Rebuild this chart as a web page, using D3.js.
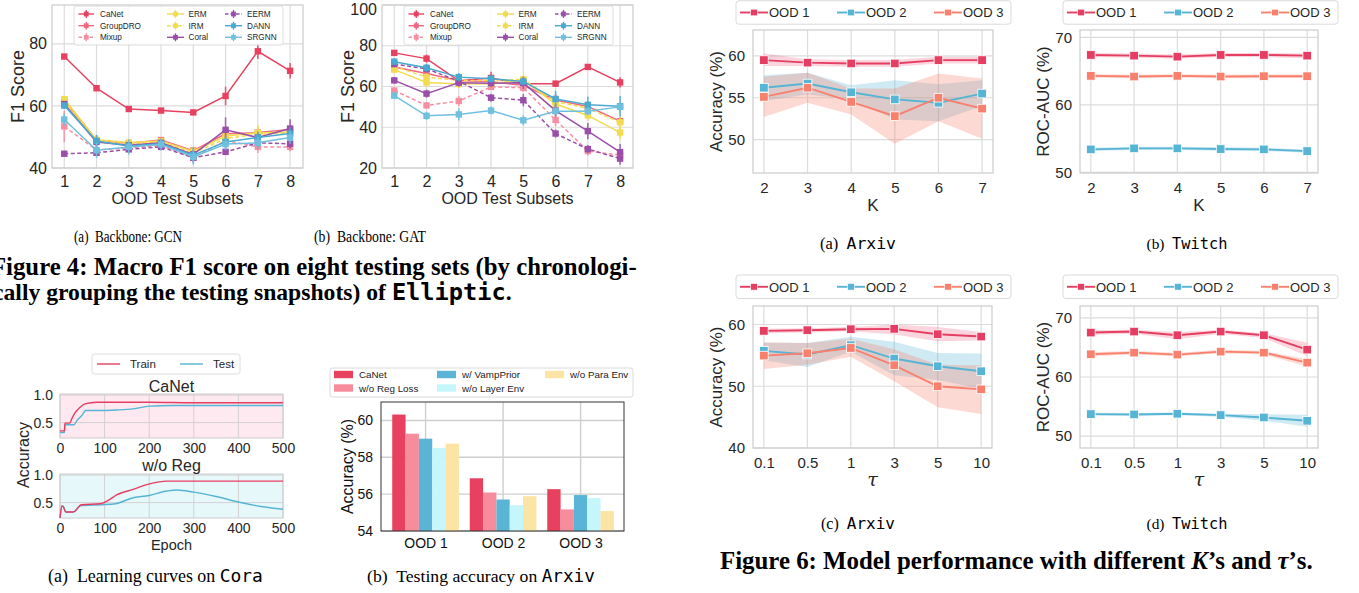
<!DOCTYPE html>
<html><head><meta charset="utf-8">
<script src="https://cdn.jsdelivr.net/npm/d3@7"></script>
<style>html,body{margin:0;padding:0;background:#fff;overflow:hidden}svg{display:block}</style>
</head><body>
<svg id="c" width="1359" height="593" xmlns="http://www.w3.org/2000/svg"></svg>
<script>
// ================= DATA =================
const subsets = [1,2,3,4,5,6,7,8];
const methods = ["CaNet","GroupDRO","Mixup","ERM","IRM","Coral","EERM","DANN","SRGNN"];
const methodColors = ["#e8405f","#f3687e","#f88fa1","#f2db4e","#f2db4e","#9b4ea9","#9b4ea9","#4aa9d0","#6fc0de"];
const methodDashed = [false,false,true,false,true,false,true,false,false];

// Elliptic, GCN backbone (F1)
const gcnCaNet    = [75.9,65.7,59.0,58.5,57.9,63.2,77.6,71.3];
const gcnGroupDRO = [61.8,48.9,48.0,49.0,45.6,51.0,51.4,52.4];
const gcnMixup    = [53.4,45.8,46.5,47.3,43.3,48.8,46.8,46.8];
const gcnERM      = [62.2,49.1,48.2,48.7,45.3,50.3,51.3,51.6];
const gcnIRM      = [61.5,48.8,47.8,48.4,44.8,49.5,50.9,51.3];
const gcnCoral    = [60.6,48.4,47.3,48.1,44.4,52.3,49.8,52.7];
const gcnEERM     = [44.6,44.9,46.0,46.8,43.3,45.2,48.1,47.8];
const gcnDANN     = [60.1,48.7,47.1,47.8,44.1,48.4,49.8,51.1];
const gcnSRGNN    = [55.6,45.7,46.8,47.6,43.6,47.7,48.1,49.8];
const gcnErrCaNet    = [0.8,0.8,0.8,0.8,0.8,3.0,2.5,2.5];
const gcnErrGroupDRO = [1.0,1.5,1.0,1.0,1.0,2.0,1.5,1.5];
const gcnErrMixup    = [5.0,1.5,1.5,1.5,1.5,1.5,2.0,1.5];
const gcnErrERM      = [1.0,1.5,1.0,1.0,1.5,3.0,2.5,2.0];
const gcnErrIRM      = [1.0,1.5,1.0,1.0,1.5,2.5,2.5,2.0];
const gcnErrCoral    = [1.0,1.5,1.0,1.0,1.5,4.0,1.5,3.0];
const gcnErrEERM     = [0.5,1.0,1.0,0.8,1.0,1.0,1.5,1.5];
const gcnErrDANN     = [1.0,2.0,1.5,1.5,2.5,2.0,2.0,2.0];
const gcnErrSRGNN    = [2.0,2.5,2.5,2.0,2.5,2.0,2.0,2.0];

// Elliptic, GAT backbone (F1)
const gatCaNet    = [76.5,73.7,62.8,64.2,61.3,61.4,69.6,62.0];
const gatGroupDRO = [69.6,66.4,62.9,62.3,60.6,53.4,50.2,43.0];
const gatMixup    = [58.0,50.7,52.9,59.8,59.4,43.6,28.3,26.3];
const gatERM      = [68.3,62.0,61.2,61.4,63.1,51.4,45.8,37.4];
const gatIRM      = [69.8,64.6,63.0,63.0,63.5,52.6,49.3,42.4];
const gatCoral    = [63.0,56.5,61.9,61.6,61.8,48.2,38.1,27.8];
const gatEERM     = [71.0,68.7,62.6,54.5,53.3,36.9,29.3,24.6];
const gatDANN     = [72.2,69.2,64.6,63.8,62.5,53.9,51.0,50.3];
const gatSRGNN    = [55.5,45.6,46.3,48.2,43.4,47.9,47.9,50.0];
const gatErrCaNet    = [1.0,2.0,2.0,3.0,1.5,1.5,1.0,2.5];
const gatErrGroupDRO = [1.5,2.0,2.0,2.0,2.0,3.0,2.0,2.0];
const gatErrMixup    = [1.5,1.5,2.5,1.5,2.0,3.0,2.0,2.0];
const gatErrERM      = [1.5,2.0,2.0,2.0,2.0,3.0,2.5,3.0];
const gatErrIRM      = [1.5,2.0,2.0,2.0,2.0,3.0,2.5,3.0];
const gatErrCoral    = [1.5,2.0,2.0,2.0,3.0,3.0,4.0,4.0];
const gatErrEERM     = [1.5,2.0,2.0,2.0,3.0,2.0,2.0,3.0];
const gatErrDANN     = [1.5,2.0,2.0,2.0,2.0,4.0,4.0,5.0];
const gatErrSRGNN    = [1.0,2.0,3.0,2.0,2.5,2.0,2.0,2.0];

// Learning curves on Cora: [epoch, accuracy]
const epochTicks = [0,100,200,300,400,500];
const lcCaNetTrain = [[0,0.35],[10,0.35],[11,0.49],[22,0.49],[27,0.58],[34,0.68],[45,0.78],[56,0.84],[82,0.87],[200,0.87],[300,0.86],[500,0.86]];
const lcCaNetTest  = [[0,0.32],[10,0.32],[11,0.46],[31,0.46],[39,0.55],[48,0.62],[58,0.72],[82,0.72],[127,0.73],[164,0.75],[201,0.80],[250,0.81],[500,0.81]];
const lcNoRegTrain = [[0,0.22],[4,0.44],[7,0.43],[13,0.33],[30,0.33],[48,0.46],[90,0.48],[112,0.56],[127,0.64],[164,0.74],[201,0.84],[239,0.89],[500,0.89]];
const lcNoRegTest  = [[0,0.22],[5,0.44],[8,0.42],[13,0.33],[30,0.33],[45,0.44],[90,0.46],[125,0.48],[160,0.58],[200,0.63],[240,0.71],[262,0.73],[300,0.69],[350,0.61],[400,0.51],[450,0.43],[500,0.38]];

// Ablation on Arxiv (accuracy %)
const barGroups = ["OOD 1","OOD 2","OOD 3"];
const barVariants = ["CaNet","w/o Reg Loss","w/ VampPrior","w/o Layer Env","w/o Para Env"];
const barColors = ["#e8405f","#f78c9c","#5ab4d6","#c4f6fb","#fbe4a4"];
const barCaNet = [60.32,56.86,56.27];
const barRegLoss = [59.28,56.09,55.17];
const barVampPrior = [59.01,55.71,55.95];
const barLayerEnv = [58.50,55.40,55.78];
const barParaEnv = [58.74,55.89,55.08];

// Sensitivity (Figure 6)
const oodNames = ["OOD 1","OOD 2","OOD 3"];
const oodColors = ["#e63e62","#56b4d4","#f8806d"];
const kValues = [2,3,4,5,6,7];
const tauLabels = ["0.1","0.5","1","3","5","10"];

const arxivK1 = [59.5,59.2,59.1,59.1,59.5,59.5];
const arxivK1lo = [58.8,58.8,58.7,58.7,59.1,59.1];
const arxivK1hi = [60.3,59.6,59.5,59.5,59.9,59.9];
const arxivK2 = [56.2,56.7,55.65,54.8,54.4,55.5];
const arxivK2lo = [54.6,55.4,54.8,52.4,52.2,54.0];
const arxivK2hi = [57.7,58.0,56.5,57.1,56.6,57.1];
const arxivK3 = [55.1,56.2,54.5,52.8,55.0,53.7];
const arxivK3lo = [52.7,54.4,53.0,49.5,52.2,50.1];
const arxivK3hi = [57.5,58.0,56.1,56.1,57.9,57.3];

const twitchK1 = [67.4,67.3,67.15,67.4,67.4,67.3];
const twitchK1lo = [67.1,67.0,66.85,67.1,67.1,66.9];
const twitchK1hi = [67.7,67.6,67.45,67.7,67.7,67.6];
const twitchK2 = [53.4,53.55,53.55,53.45,53.4,53.15];
const twitchK2lo = [53.15,53.3,53.3,53.2,53.15,52.9];
const twitchK2hi = [53.65,53.8,53.8,53.7,53.65,53.4];
const twitchK3 = [64.3,64.2,64.3,64.2,64.25,64.25];
const twitchK3lo = [64.05,63.95,64.05,63.95,64.0,64.0];
const twitchK3hi = [64.55,64.45,64.55,64.45,64.5,64.5];

const arxivT1 = [58.97,59.08,59.24,59.3,58.43,58.05];
const arxivT1lo = [58.6,58.7,58.9,58.4,57.3,57.4];
const arxivT1hi = [59.3,59.4,59.6,60.0,59.6,58.8];
const arxivT2 = [55.73,55.14,56.65,54.49,53.24,52.43];
const arxivT2lo = [54.2,53.1,55.6,51.8,51.0,49.6];
const arxivT2hi = [57.1,57.0,58.0,57.2,55.4,55.3];
const arxivT3 = [54.97,55.35,56.2,53.4,50.0,49.5];
const arxivT3lo = [52.8,53.5,54.8,50.8,46.6,45.5];
const arxivT3hi = [57.1,57.0,57.7,56.0,53.5,53.4];

const twitchT1 = [67.51,67.68,67.06,67.68,67.06,64.63];
const twitchT1lo = [67.1,67.3,66.4,67.3,66.6,63.5];
const twitchT1hi = [67.9,68.0,67.6,68.0,67.4,65.8];
const twitchT2 = [53.73,53.67,53.79,53.56,53.16,52.6];
const twitchT2lo = [53.5,53.45,53.55,53.3,52.6,51.6];
const twitchT2hi = [53.95,53.9,54.0,53.8,53.7,53.6];
const twitchT3 = [63.84,64.12,63.79,64.29,64.12,62.43];
const twitchT3lo = [63.5,63.8,63.5,64.0,63.8,61.8];
const twitchT3hi = [64.2,64.4,64.1,64.6,64.4,63.0];

// ================= DRAWING =================
const svg = d3.select("#c");
svg.append("rect").attr("width",1359).attr("height",593).attr("fill","#fff");
const SANS = "'Liberation Sans', Arial, Helvetica, sans-serif";
const SERIF = "'Liberation Serif', 'Times New Roman', serif";
const MONO = "'DejaVu Sans Mono', 'Liberation Mono', monospace";
const INK = "#262626";
const GRID = "#dcdcdc";
const FRAME = "#cccccc";

function txt(g, x, y, s, size, o = {}) {
  const t = g.append("text").attr("x", x).attr("y", y).text(s)
    .attr("font-family", o.family || SANS).attr("font-size", size)
    .attr("fill", o.fill || INK).attr("text-anchor", o.anchor || "start");
  if (o.weight) t.attr("font-weight", o.weight);
  if (o.rotate) t.attr("transform", `rotate(-90,${x},${y})`).attr("dominant-baseline", "central");
  return t;
}
function fitText(t, target) {
  const w = t.node().getComputedTextLength();
  const fs = parseFloat(t.attr("font-size"));
  if (w > 0) t.attr("font-size", fs * target / w);
}
function styleAxis(sel, size, color) {
  sel.select(".domain").remove();
  sel.selectAll("text").attr("font-family", SANS).attr("font-size", size).attr("fill", color || INK);
}
// caption with serif + mono parts
function caption(x, y, parts, size, target, o = {}) {
  const t = svg.append("text").attr("x", x).attr("y", y).attr("font-size", size)
    .attr("font-family", SERIF).attr("fill", "#000").attr("text-anchor", o.anchor || "middle");
  if (o.weight) t.attr("font-weight", o.weight);
  parts.forEach(p => {
    const ts = t.append("tspan").text(p.t).attr("xml:space", "preserve");
    if (p.mono) ts.attr("font-family", MONO);
    if (p.italic) ts.attr("font-style", "italic");
  });
  t.attr("xml:space", "preserve");
  if (o.squeeze) t.attr("textLength", o.squeeze).attr("lengthAdjust", "spacingAndGlyphs");
  else if (target) fitText(t, target);
  return t;
}

// ---------- F1 panels ----------
function f1Panel(cfg) {
  const g = svg.append("g");
  const x = d3.scaleLinear().domain(cfg.xDomain).range([cfg.left, cfg.right]);
  const y = d3.scaleLinear().domain(cfg.yDomain).range([cfg.bottom, cfg.top]);
  g.append("g").selectAll("line").data(subsets).join("line")
    .attr("x1", d => x(d)).attr("x2", d => x(d)).attr("y1", cfg.top).attr("y2", cfg.bottom)
    .attr("stroke", GRID).attr("stroke-width", 1.2);
  g.append("g").selectAll("line").data(cfg.yTicks).join("line")
    .attr("x1", cfg.left).attr("x2", cfg.right).attr("y1", d => y(d)).attr("y2", d => y(d))
    .attr("stroke", GRID).attr("stroke-width", 1.2);
  g.append("rect").attr("x", cfg.left).attr("y", cfg.top).attr("width", cfg.right - cfg.left)
    .attr("height", cfg.bottom - cfg.top).attr("fill", "none").attr("stroke", FRAME).attr("stroke-width", 1.2);

  const line = d3.line().x((d, i) => x(subsets[i])).y(d => y(d));
  cfg.series.forEach((vals, si) => {
    const col = methodColors[si], errs = cfg.errors[si];
    const sg = g.append("g");
    sg.append("path").attr("d", line(vals)).attr("fill", "none").attr("stroke", col)
      .attr("stroke-width", 1.5).attr("stroke-dasharray", methodDashed[si] ? "4,2.5" : null);
    sg.selectAll("line.e").data(vals).join("line")
      .attr("x1", (d, i) => x(subsets[i])).attr("x2", (d, i) => x(subsets[i]))
      .attr("y1", (d, i) => y(d - errs[i])).attr("y2", (d, i) => y(d + errs[i]))
      .attr("stroke", col).attr("stroke-width", 1.6).attr("opacity", 0.85);
    sg.selectAll("rect").data(vals).join("rect")
      .attr("x", (d, i) => x(subsets[i]) - 3.2).attr("y", d => y(d) - 3.2)
      .attr("width", 6.4).attr("height", 6.4).attr("fill", col);
  });

  const xa = g.append("g").attr("transform", `translate(0,${cfg.bottom})`)
    .call(d3.axisBottom(x).tickValues(subsets).tickFormat(d3.format("d")).tickSize(0).tickPadding(8));
  styleAxis(xa, 16);
  const ya = g.append("g").attr("transform", `translate(${cfg.left},0)`)
    .call(d3.axisLeft(y).tickValues(cfg.yTicks).tickFormat(d3.format("d")).tickSize(0).tickPadding(5));
  styleAxis(ya, 16);
  ya.selectAll("text").filter(d => y(d) < 10).attr("dy", "0.62em");
  txt(g, (cfg.left + cfg.right) / 2, 204, "OOD Test Subsets", 16, { anchor: "middle" });
  txt(g, cfg.left - 34, (cfg.top + cfg.bottom) / 2, "F1 Score", 18, { anchor: "middle", rotate: true });

  // legend
  const ox = cfg.left - 52;
  g.append("rect").attr("x", ox + 74).attr("y", 6).attr("width", 209).attr("height", 39).attr("rx", 2)
    .attr("fill", "#fff").attr("fill-opacity", 0.85).attr("stroke", "#d6d6d6").attr("stroke-width", 0.8);
  const cols = [[78.5, 94, 100], [167, 184, 188.5], [225, 242, 247]];
  const rows = [14, 25.7, 37.3];
  methods.forEach((m, i) => {
    const c = cols[Math.floor(i / 3)], r = rows[i % 3], col = methodColors[i];
    const mx = (c[0] + c[1]) / 2 + ox;
    g.append("line").attr("x1", c[0] + ox).attr("x2", c[1] + ox).attr("y1", r).attr("y2", r)
      .attr("stroke", col).attr("stroke-width", 1.4).attr("stroke-dasharray", methodDashed[i] ? "3.5,2" : null);
    g.append("line").attr("x1", mx).attr("x2", mx).attr("y1", r - 4).attr("y2", r + 4)
      .attr("stroke", col).attr("stroke-width", 1.3);
    g.append("rect").attr("x", mx - 2.4).attr("y", r - 2.4).attr("width", 4.8).attr("height", 4.8).attr("fill", col);
    txt(g, c[2] + ox, r + 2.9, m, 8.2, {});
  });
}

f1Panel({ left: 52, right: 303, top: 5, bottom: 168, xDomain: [0.62, 8.4], yDomain: [40, 92.5], yTicks: [40, 60, 80],
  series: [gcnCaNet, gcnGroupDRO, gcnMixup, gcnERM, gcnIRM, gcnCoral, gcnEERM, gcnDANN, gcnSRGNN],
  errors: [gcnErrCaNet, gcnErrGroupDRO, gcnErrMixup, gcnErrERM, gcnErrIRM, gcnErrCoral, gcnErrEERM, gcnErrDANN, gcnErrSRGNN] });
f1Panel({ left: 382, right: 633, top: 5, bottom: 168, xDomain: [0.62, 8.4], yDomain: [20, 100], yTicks: [20, 40, 60, 80, 100],
  series: [gatCaNet, gatGroupDRO, gatMixup, gatERM, gatIRM, gatCoral, gatEERM, gatDANN, gatSRGNN],
  errors: [gatErrCaNet, gatErrGroupDRO, gatErrMixup, gatErrERM, gatErrIRM, gatErrCoral, gatErrEERM, gatErrDANN, gatErrSRGNN] });

caption(128, 242, [{ t: "(a)  Backbone: GCN" }], 16.5, null, { squeeze: 108 });
caption(370, 242, [{ t: "(b)  Backbone: GAT" }], 16.5, null, { squeeze: 112 });
caption(-9, 275, [{ t: "Figure 4: Macro F1 score on eight testing sets (by chronologi-" }], 20, 646, { anchor: "start", weight: "bold" });
caption(-7, 300, [{ t: "cally grouping the testing snapshots) of " }, { t: "Elliptic", mono: true }, { t: "." }], 20, 519, { anchor: "start", weight: "bold" });

// ---------- Learning curves ----------
(function () {
  const g = svg.append("g");
  const x = d3.scaleLinear().domain([0, 500]).range([60, 283]);
  const subs = [
    { top: 394, bottom: 438, bg: "#fde9ef", title: "CaNet", tY: 392, train: lcCaNetTrain, test: lcCaNetTest },
    { top: 474, bottom: 518, bg: "#e7f8fb", title: "w/o Reg", tY: 471, train: lcNoRegTrain, test: lcNoRegTest }
  ];
  subs.forEach(s => {
    const y = d3.scaleLinear().domain([0.22, 1.02]).range([s.bottom, s.top]);
    g.append("rect").attr("x", 60).attr("y", s.top).attr("width", 223).attr("height", s.bottom - s.top).attr("fill", s.bg);
    g.append("g").selectAll("line").data(epochTicks).join("line")
      .attr("x1", d => x(d)).attr("x2", d => x(d)).attr("y1", s.top).attr("y2", s.bottom)
      .attr("stroke", "#d4d0d2").attr("stroke-width", 1);
    g.append("g").selectAll("line").data([0.5, 1.0]).join("line")
      .attr("x1", 60).attr("x2", 283).attr("y1", d => y(d)).attr("y2", d => y(d))
      .attr("stroke", "#d4d0d2").attr("stroke-width", 1);
    g.append("rect").attr("x", 60).attr("y", s.top).attr("width", 223).attr("height", s.bottom - s.top)
      .attr("fill", "none").attr("stroke", FRAME).attr("stroke-width", 1);
    const ln = d3.line().x(d => x(d[0])).y(d => y(d[1])).curve(d3.curveMonotoneX);
    g.append("path").attr("d", ln(s.test)).attr("fill", "none").attr("stroke", "#56b4d4").attr("stroke-width", 1.4);
    g.append("path").attr("d", ln(s.train)).attr("fill", "none").attr("stroke", "#e63e62").attr("stroke-width", 1.4);
    const xa = g.append("g").attr("transform", `translate(0,${s.bottom})`)
      .call(d3.axisBottom(x).tickValues(epochTicks).tickFormat(d3.format("d")).tickSize(0).tickPadding(5));
    styleAxis(xa, 14);
    const ya = g.append("g").attr("transform", `translate(60,0)`)
      .call(d3.axisLeft(y).tickValues([0.5, 1.0]).tickFormat(d3.format(".1f")).tickSize(0).tickPadding(7));
    styleAxis(ya, 14);
    txt(g, 171.5, s.tY, s.title, 16, { anchor: "middle" });
  });
  txt(g, 171.5, 550, "Epoch", 14.5, { anchor: "middle" });
  txt(g, 23, 455, "Accuracy", 16, { anchor: "middle", rotate: true });
  g.append("rect").attr("x", 92).attr("y", 354).attr("width", 148).attr("height", 20).attr("rx", 2.5)
    .attr("fill", "#fff").attr("stroke", "#d6d6d6").attr("stroke-width", 0.8);
  [["Train", "#e63e62", 97, 120, 130], ["Test", "#56b4d4", 180, 203, 213]].forEach(d => {
    g.append("line").attr("x1", d[2]).attr("x2", d[3]).attr("y1", 364).attr("y2", 364).attr("stroke", d[1]).attr("stroke-width", 1.4);
    txt(g, d[4], 368, d[0], 11.5, {});
  });
})();
caption(155.5, 582, [{ t: "(a)  Learning curves on " }, { t: "Cora", mono: true }], 15, 215);

// ---------- Bar chart ----------
(function () {
  const g = svg.append("g");
  const L = 381, R = 624, T = 402, B = 531;
  const gi = barGroups.map((d, i) => i);
  const x = d3.scaleLinear().domain([-0.575, 2.56]).range([L, R]);
  const y = d3.scaleLinear().domain([54, 61]).range([B, T]);
  const yt = [54, 56, 58, 60];
  g.append("g").selectAll("line").data(gi).join("line")
    .attr("x1", d => x(d)).attr("x2", d => x(d)).attr("y1", T).attr("y2", B).attr("stroke", "#cfcfcf").attr("stroke-width", 1.4);
  g.append("g").selectAll("line").data(yt).join("line")
    .attr("x1", L).attr("x2", R).attr("y1", d => y(d)).attr("y2", d => y(d)).attr("stroke", "#cfcfcf").attr("stroke-width", 1.4);
  const series = [barCaNet, barRegLoss, barVampPrior, barLayerEnv, barParaEnv];
  const bw = 0.172;
  series.forEach((vals, si) => {
    g.append("g").selectAll("rect").data(vals).join("rect")
      .attr("x", (d, i) => x(i + (si - 2.5) * bw)).attr("width", x(bw) - x(0))
      .attr("y", d => y(d)).attr("height", d => y(54) - y(d)).attr("fill", barColors[si]);
  });
  g.append("rect").attr("x", L).attr("y", T).attr("width", R - L).attr("height", B - T)
    .attr("fill", "none").attr("stroke", "#333").attr("stroke-width", 1);
  const xa = g.append("g").attr("transform", `translate(0,${B})`)
    .call(d3.axisBottom(x).tickValues(gi).tickFormat(i => barGroups[i]).tickSize(0).tickPadding(7));
  styleAxis(xa, 14, "#111");
  const ya = g.append("g").attr("transform", `translate(${L},0)`)
    .call(d3.axisLeft(y).tickValues(yt).tickFormat(d3.format("d")).tickSize(0).tickPadding(8));
  styleAxis(ya, 14, "#111");
  txt(g, 347, (T + B) / 2, "Accuracy (%)", 16, { anchor: "middle", rotate: true, fill: "#111" });
  g.append("rect").attr("x", 330).attr("y", 368).attr("width", 303).attr("height", 29).attr("rx", 2.5)
    .attr("fill", "#fff").attr("stroke", "#d0d0d0").attr("stroke-width", 0.8);
  const pos = [[334, 374.5], [334, 388], [437, 374.5], [437, 388], [545, 374.5]];
  barVariants.forEach((v, i) => {
    g.append("rect").attr("x", pos[i][0]).attr("y", pos[i][1] - 3.7).attr("width", 19).attr("height", 7.4).attr("fill", barColors[i]);
    txt(g, pos[i][0] + 25, pos[i][1] + 3.5, v, 9.8, { fill: "#222" });
  });
})();
caption(481, 582, [{ t: "(b)  Testing accuracy on " }, { t: "Arxiv", mono: true }], 15, 228);

// ---------- Figure 6 panels ----------
function sensPanel(c) {
  const g = svg.append("g");
  const x = d3.scaleLinear().domain(c.xDomain).range([c.left, c.right]);
  const y = d3.scaleLinear().domain(c.yDomain).range([c.bottom, c.top]);
  g.append("g").selectAll("line").data(c.xPos).join("line")
    .attr("x1", d => x(d)).attr("x2", d => x(d)).attr("y1", c.top).attr("y2", c.bottom).attr("stroke", GRID).attr("stroke-width", 1.2);
  g.append("g").selectAll("line").data(c.yTicks).join("line")
    .attr("x1", c.left).attr("x2", c.right).attr("y1", d => y(d)).attr("y2", d => y(d)).attr("stroke", GRID).attr("stroke-width", 1.2);
  g.append("rect").attr("x", c.left).attr("y", c.top).attr("width", c.right - c.left).attr("height", c.bottom - c.top)
    .attr("fill", "none").attr("stroke", FRAME).attr("stroke-width", 1.2);
  const bandOp = [0.22, 0.28, 0.3];
  c.series.forEach((s, si) => {
    const area = d3.area().x((d, i) => x(c.xPos[i])).y0((d, i) => y(s.lo[i])).y1((d, i) => y(s.hi[i]));
    g.append("path").attr("d", area(s.mean)).attr("fill", oodColors[si]).attr("fill-opacity", bandOp[si]);
  });
  c.series.forEach((s, si) => {
    const ln = d3.line().x((d, i) => x(c.xPos[i])).y(d => y(d));
    g.append("path").attr("d", ln(s.mean)).attr("fill", "none").attr("stroke", oodColors[si]).attr("stroke-width", 1.9);
    g.append("g").selectAll("rect").data(s.mean).join("rect")
      .attr("x", (d, i) => x(c.xPos[i]) - 4.3).attr("y", d => y(d) - 4.3).attr("width", 8.6).attr("height", 8.6)
      .attr("fill", oodColors[si]).attr("stroke", "#fff").attr("stroke-width", 0.8);
  });
  const xa = g.append("g").attr("transform", `translate(0,${c.bottom})`)
    .call(d3.axisBottom(x).tickValues(c.xPos).tickFormat((d, i) => c.xLabels[i]).tickSize(0).tickPadding(9));
  styleAxis(xa, 15);
  const ya = g.append("g").attr("transform", `translate(${c.left},0)`)
    .call(d3.axisLeft(y).tickValues(c.yTicks).tickFormat(d3.format("d")).tickSize(0).tickPadding(8));
  styleAxis(ya, 15);
  txt(g, c.left - 37, (c.top + c.bottom) / 2, c.ylabel, 17, { anchor: "middle", rotate: true });
  if (c.xlabel === "τ") {
    txt(g, (c.left + c.right) / 2, c.bottom + 38, "τ", 19, { anchor: "middle", family: "'DejaVu Serif', serif" }).attr("font-style", "italic");
  } else {
    txt(g, (c.left + c.right) / 2, c.bottom + 38, c.xlabel, 17, { anchor: "middle" });
  }
  const lx = c.left - 17, ly = c.legY;
  g.append("rect").attr("x", lx).attr("y", ly).attr("width", 275).attr("height", 23.5).attr("rx", 3)
    .attr("fill", "#fff").attr("stroke", "#d6d6d6").attr("stroke-width", 0.9);
  const offs = [4, 101, 198];
  oodNames.forEach((n, i) => {
    const x0 = lx + offs[i], cy = ly + 11.8;
    g.append("line").attr("x1", x0).attr("x2", x0 + 28).attr("y1", cy).attr("y2", cy).attr("stroke", oodColors[i]).attr("stroke-width", 1.9);
    g.append("rect").attr("x", x0 + 14 - 3.3).attr("y", cy - 3.3).attr("width", 6.6).attr("height", 6.6)
      .attr("fill", oodColors[i]).attr("stroke", "#fff").attr("stroke-width", 0.6);
    txt(g, x0 + 29, cy + 4.7, n, 13, {});
  });
}
const kDom = [1.75, 7.25];
const tPos = tauLabels.map((d, i) => i);
const tDom = [-0.25, 5.25];
sensPanel({ left: 753, right: 993, top: 30, bottom: 173, legY: 0.7, xDomain: kDom, xPos: kValues, xLabels: kValues.map(String),
  yDomain: [46, 63.1], yTicks: [50, 55, 60], ylabel: "Accuracy (%)", xlabel: "K",
  series: [{ mean: arxivK1, lo: arxivK1lo, hi: arxivK1hi }, { mean: arxivK2, lo: arxivK2lo, hi: arxivK2hi }, { mean: arxivK3, lo: arxivK3lo, hi: arxivK3hi }] });
sensPanel({ left: 1080, right: 1318, top: 30, bottom: 173, legY: 0.7, xDomain: kDom, xPos: kValues, xLabels: kValues.map(String),
  yDomain: [49.9, 71.1], yTicks: [50, 60, 70], ylabel: "ROC-AUC (%)", xlabel: "K",
  series: [{ mean: twitchK1, lo: twitchK1lo, hi: twitchK1hi }, { mean: twitchK2, lo: twitchK2lo, hi: twitchK2hi }, { mean: twitchK3, lo: twitchK3lo, hi: twitchK3hi }] });
sensPanel({ left: 753, right: 992, top: 306, bottom: 448, legY: 275, xDomain: tDom, xPos: tPos, xLabels: tauLabels,
  yDomain: [40, 63], yTicks: [40, 50, 60], ylabel: "Accuracy (%)", xlabel: "τ",
  series: [{ mean: arxivT1, lo: arxivT1lo, hi: arxivT1hi }, { mean: arxivT2, lo: arxivT2lo, hi: arxivT2hi }, { mean: arxivT3, lo: arxivT3lo, hi: arxivT3hi }] });
sensPanel({ left: 1080, right: 1318, top: 306, bottom: 448, legY: 275, xDomain: tDom, xPos: tPos, xLabels: tauLabels,
  yDomain: [48, 72], yTicks: [50, 60, 70], ylabel: "ROC-AUC (%)", xlabel: "τ",
  series: [{ mean: twitchT1, lo: twitchT1lo, hi: twitchT1hi }, { mean: twitchT2, lo: twitchT2lo, hi: twitchT2hi }, { mean: twitchT3, lo: twitchT3lo, hi: twitchT3hi }] });

caption(858, 249, [{ t: "(a)  " }, { t: "Arxiv", mono: true }], 15, 76);
caption(1187, 249, [{ t: "(b)  " }, { t: "Twitch", mono: true }], 15, 81);
caption(858, 529, [{ t: "(c)  " }, { t: "Arxiv", mono: true }], 15, 74);
caption(1187, 529, [{ t: "(d)  " }, { t: "Twitch", mono: true }], 15, 81);
caption(720, 569, [{ t: "Figure 6: Model performance with different " }, { t: "K", italic: true }, { t: "’s and " }, { t: "τ", italic: true }, { t: "’s." }], 20, 593, { anchor: "start", weight: "bold" });
</script>
</body></html>
